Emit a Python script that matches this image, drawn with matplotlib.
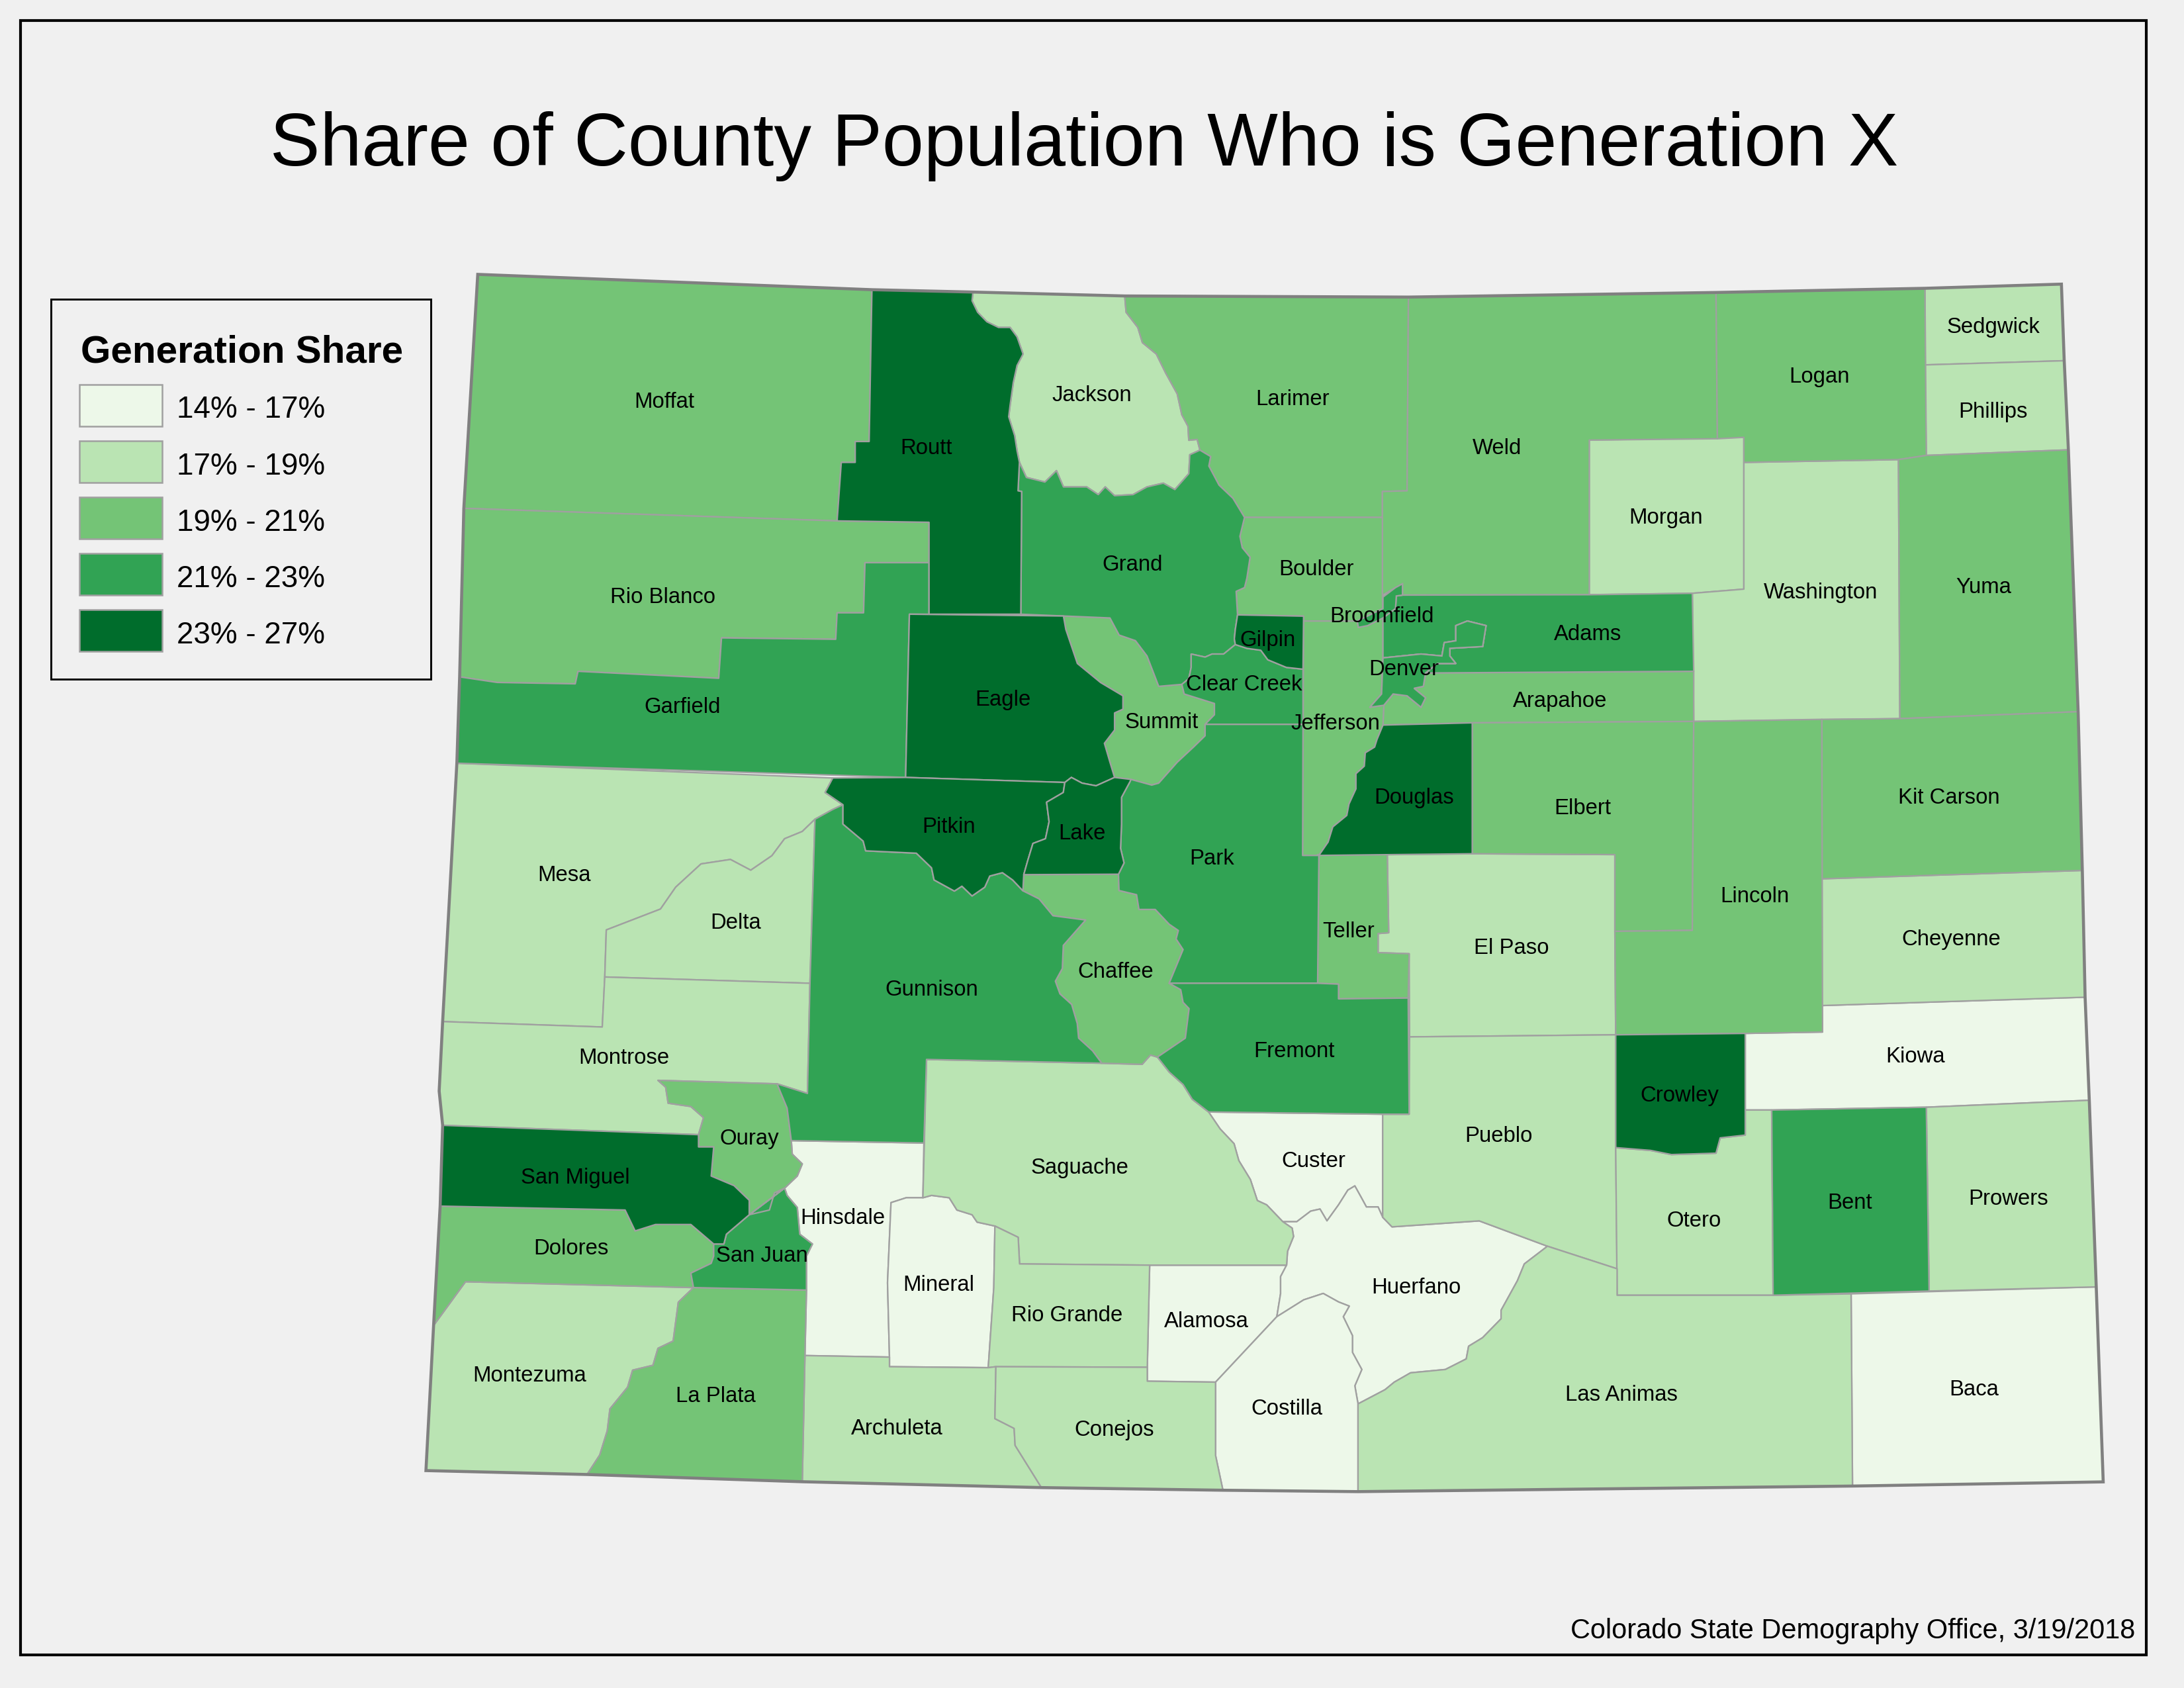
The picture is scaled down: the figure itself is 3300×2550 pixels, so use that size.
"""Share of county population who is Generation X, Colorado county choropleth."""

import matplotlib

matplotlib.use("Agg")
import matplotlib.pyplot as plt
from matplotlib.patches import Polygon, Rectangle

plt.rcParams["font.family"] = ["Liberation Sans", "DejaVu Sans"]

TITLE = "Share of County Population Who is Generation X"
CREDIT = "Colorado State Demography Office, 3/19/2018"
LEGEND_TITLE = "Generation Share"
CLASS_LABELS = ["14% - 17%", "17% - 19%", "19% - 21%", "21% - 23%", "23% - 27%"]
CLASS_COLORS = ["#EDF8E9", "#BAE4B3", "#74C476", "#31A354", "#006D2C"]

# Classes
CLASS_0 = ["Kiowa", "Custer", "Hinsdale", "Mineral", "Alamosa", "Huerfano", "Costilla", "Baca"]
CLASS_1 = ["Jackson", "Sedgwick", "Phillips", "Morgan", "Washington", "Mesa", "Delta", "Montrose",
           "Cheyenne", "El Paso", "Pueblo", "Saguache", "Otero", "Prowers", "Montezuma",
           "Rio Grande", "Archuleta", "Conejos", "Las Animas"]
CLASS_2 = ["Moffat", "Larimer", "Weld", "Logan", "Yuma", "Rio Blanco", "Boulder", "Arapahoe",
           "Summit", "Jefferson", "Elbert", "Kit Carson", "Lincoln", "Teller", "Chaffee",
           "Ouray", "Dolores", "La Plata"]
CLASS_3 = ["Grand", "Adams", "Clear Creek", "Garfield", "Park", "Gunnison", "Fremont", "Bent",
           "San Juan", "Denver", "Broomfield"]
CLASS_4 = ["Routt", "Gilpin", "Eagle", "Douglas", "Pitkin", "Lake", "Crowley", "San Miguel"]
CLASSES = [CLASS_0, CLASS_1, CLASS_2, CLASS_3, CLASS_4]

# Shared county borders, in map units
JACKSON_W = [(698.5, 209.7), (697.9, 216), (701.9, 224.2), (708.5, 231), (716.9, 235.1), (725.2, 235.1),
             (730.2, 241.9), (734.5, 254.2), (730.2, 262.4), (727.5, 274.6), (725.2, 291), (724.2, 299.2),
             (728.5, 312.8), (730.2, 323.7), (731.9, 331.9)]
JACKSON_S = [(731.9, 331.9), (736.9, 342.8), (750.2, 346.1), (758.5, 337.9), (763.5, 349.6), (780.2, 349.6),
             (788.5, 355.1), (793.5, 349.6), (800.2, 355.9), (813.5, 355.1), (823.5, 349.6), (835.2, 346.9),
             (843.5, 351.5), (853.5, 340.1), (854.2, 326.5), (861.5, 323.2)]
JACKSON_E = [(807.5, 212.5), (808.5, 224.2), (816.9, 235.1), (820.2, 246), (830.2, 254.2), (836.9, 267.8),
             (845.2, 282.8), (848.5, 297.8), (852.9, 306), (853.5, 316.1), (859.5, 315.5), (861.5, 323.2)]
GRAND_LARIMER = [(861.5, 323.2), (869.2, 327.8), (867.9, 334.6), (875.2, 348.3), (885.2, 357.8), (893.5, 371.5)]
GRAND_BOULDER = [(893.5, 371.5), (890.2, 385.1), (891.9, 393.3), (897.5, 400.1), (895.2, 415.1), (893.5, 421.9),
                 (887.5, 424.6), (888.5, 441.5)]
GILPIN_W = [(888.5, 441.5), (886.9, 451.9), (886.2, 458.7), (886.9, 462.8)]
GILPIN_S = [(886.9, 462.8), (895.2, 465.5), (905.2, 466.9), (910.2, 473.7), (923.5, 479.2), (935.5, 480.5)]
GRAND_CC = [(886.9, 462.8), (878.5, 469.6), (870.2, 469.6), (865.2, 471.8), (855.2, 469.6), (855.2, 479.2),
            (853.5, 487.3), (848.5, 491.4)]
SUMMIT_GRAND = [(763.5, 442.3), (796.9, 443.7), (803.5, 456), (815.2, 460), (823.5, 471), (831.9, 492.8),
                (848.5, 491.4)]
SUMMIT_CC = [(848.5, 491.4), (850.2, 498.3), (871.9, 505.1), (871.9, 513.2), (865.2, 520.1)]
SUMMIT_PARK = [(865.2, 520.1), (865.2, 528.3), (856.9, 536.4), (845.2, 547.3), (831.9, 562.3), (826.9, 563.7),
               (811.9, 559.6)]
SUMMIT_EAGLE = [(763.5, 442.3), (765.2, 451.9), (773.5, 476.4), (790.2, 490.1), (806.2, 499.6), (806.2, 509.2),
                (800.2, 511.9), (800.2, 524.2), (792.9, 533.7), (796.9, 547.3), (800.2, 558.2)]
EAGLE_LAKE = [(800.2, 558.2), (786.9, 564.2), (776.9, 562.3), (769.2, 558.2), (764.5, 561.8)]
LAKE_PITKIN = [(764.5, 561.8), (763.4, 569), (751.4, 576), (753.2, 590), (750.6, 602.2), (741.6, 605.6),
               (737.9, 617.8), (735, 628)]
LAKE_PARK = [(811.9, 559.6), (811.4, 561), (805.2, 572.5), (805.2, 591.7), (804.5, 609.1), (807, 619.6), (803, 627.7)]
PITKIN_MESA = [(597.9, 558.6), (592.4, 569), (605.2, 577.8)]
PITKIN_GUNNISON = [(605.2, 577.8), (605.2, 591.7), (619.7, 603.9), (621.5, 610.9), (657.9, 612.6), (668.8, 623.1),
                   (670.6, 631.8), (685.2, 639.8), (690.6, 636.3), (697.9, 643.3), (707, 637), (710.6, 629),
                   (719.7, 626.6), (727, 631.8), (734.4, 639.6)]
MESA_GUNNISON = [(605.2, 577.8), (597.9, 581.2), (585.1, 588.2)]
MESA_DELTA = [(585.1, 588.2), (576, 597), (563.3, 602.2), (554.2, 614.4), (539, 624.8), (524.4, 617.1),
              (503.3, 620.3), (485.1, 637), (474.2, 652.7), (435.3, 667.7), (434.2, 701.5)]
CHAFFEE_GUNNISON = [(734.4, 639.6), (746, 645.4), (756, 657.5), (779.4, 660.6), (763.4, 678.8), (762.7, 695.4),
                    (757.7, 704.5), (761, 713.6), (769.4, 721.2), (773.4, 734.8), (774.4, 745.4), (784.4, 754.5),
                    (791, 763.4)]
CHAFFEE_PARK = [(803, 627.7), (803.4, 639.4), (816, 642.4), (817.7, 653), (829.4, 653), (839.4, 663.6), (846, 668.1),
                (844.4, 674.2), (849.4, 681.8), (844.4, 693.9), (839.4, 706)]
CHAFFEE_FREMONT = [(839.4, 706), (847.7, 710.6), (849.4, 719.7), (853.7, 724.2), (851, 745.4), (831, 759)]
CHAFFEE_SAGUACHE = [(791, 763.4), (820, 764.2), (826, 757.5), (831, 759)]
SAGUACHE_FREMONT = [(831, 759), (839.4, 769.7), (849.4, 778.7), (856, 789.3), (867.7, 798.4)]
SAGUACHE_CUSTER = [(867.7, 798.4), (876, 810.6), (886, 821.2), (889.4, 833.3), (897.7, 846.9), (902.7, 862),
                   (909.4, 865.1), (921, 877.2)]
SAGUACHE_HUERFANO = [(921, 877.2), (927.7, 881.8), (928.7, 887.8), (924.4, 898.4), (923.7, 908.4)]
CUSTER_HUERFANO = [(921, 877.2), (931, 877.2), (941, 869.6), (947.7, 868.1), (952.7, 876.6), (961, 865.1),
                   (967.7, 854.5), (972.7, 851.5), (977.7, 860.5), (981, 866.6), (989.4, 866.6), (992.7, 874)]
ALAMOSA_HUERFANO = [(923.7, 908.4), (919.4, 916.6), (919.4, 928.8), (916.7, 945.4)]
COSTILLA_ALAMOSA = [(916.7, 945.4), (872.7, 992.4)]
COSTILLA_HUERFANO = [(916.7, 945.4), (936, 933.3), (950, 928.7), (961, 934.8), (968.7, 937.8), (964.4, 945.4),
                     (971, 959), (971, 971), (977.7, 983.3), (972.7, 995), (975, 1008)]
HUERFANO_ANIMAS = [(975, 1008), (994.4, 997.8), (1001, 992.4), (1012.7, 985.7), (1037.7, 983.3), (1052.7, 975.7),
                   (1054.4, 966.6), (1064.4, 960.5), (1077.7, 946.9), (1077.7, 940.8), (1089.4, 919.6),
                   (1094.4, 907.5), (1111, 894.8)]
PUEBLO_HUERFANO = [(992.7, 874), (999.4, 880.9), (1062, 876.6), (1111, 894.8)]
MINERAL_HINSDALE = [(639.7, 863.5), (650.6, 860), (662.6, 860)]
MINERAL_SAGUACHE = [(662.6, 860), (668.8, 858.3), (681.5, 860), (687, 868.8), (697.9, 872.2), (701.5, 877.5),
                    (714.3, 880.3)]
OURAY_HINSDALE = [(568.1, 819), (568.8, 828.7), (576, 835.7), (572.4, 844.4), (563.3, 853.1)]
SANJUAN_HINSDALE = [(563.3, 853.1), (565.1, 858.3), (572.4, 867), (574.2, 886.2), (583.3, 893.2), (579, 901.9),
                    (579, 926.3)]
OURAY_SANJUAN = [(563.3, 853.1), (556, 856.6), (552.4, 868.8), (537.9, 872.2)]
SANMIGUEL_OURAY = [(501.5, 814.7), (501.5, 823.5), (512.4, 823.5), (510.6, 844.4), (527, 851.3), (537.9, 861.8),
                   (537.9, 872.2)]
SANMIGUEL_SANJUAN = [(537.9, 872.2), (521.5, 886.2), (519.7, 893.2), (512.4, 893.2)]
SANMIGUEL_DOLORES = [(512.4, 893.2), (496, 879.2), (470.6, 879.2), (456, 883.8), (448.8, 868.8), (316, 866)]
DOLORES_SANJUAN = [(512.4, 893.2), (512.4, 901.9), (510.6, 907.1), (496, 914.1), (497.9, 924.5)]
MONTROSE_OURAY = [(557.9, 778.2), (472.4, 775.7), (477.9, 780.6), (479.7, 792.1), (496, 794.5), (505.1, 802.5),
                  (501.5, 814.7)]
OURAY_GUNNISON = [(557.9, 778.2), (565.1, 795.6), (568.1, 819)]
LAPLATA_MONTEZUMA = [(497.9, 924.5), (487, 935), (483.3, 962.9), (472.4, 968.1), (468.8, 980.3), (454.2, 983.8),
                     (450.6, 996), (437.9, 1011.6), (436, 1027.3), (430.6, 1044.7), (421.5, 1058.7)]
JEFFERSON_DOUGLAS = [(992.9, 520.6), (988.6, 531), (986.9, 536.4), (980.2, 540.5), (979.5, 550.1), (973.5, 555.5),
                     (973.5, 566.4), (968.5, 577.3), (966.9, 585.5), (956.9, 593.7), (953.5, 604.6), (946.9, 614.2)]
DENVER_N = [(992.9, 472.4), (1020.2, 469.6), (1035.2, 471), (1036.9, 461.4), (1045.2, 460.1), (1045.2, 449.2),
            (1053.5, 445.9), (1066.9, 449.2), (1064.5, 464.2), (1040.9, 465.5), (1040.9, 471), (1045.2, 476.4),
            (1031.9, 476.4), (1023.5, 483.2)]
DENVER_S = [(1023.5, 483.2), (1021.9, 492.8), (1015.2, 494.2), (1023.5, 501), (1020.2, 507.8), (1010.2, 499.6),
            (1000.2, 498.3), (993.5, 506.4)]
DENVER_W = [(993.5, 506.4), (983.5, 507.8), (991.9, 498.3), (992.9, 472.4)]
BROOMFIELD = [(1006.9, 419.2), (1006.9, 427.3), (1002.5, 427.9), (1001.9, 436.9), (992.9, 443.7), (981.9, 449.2),
              (975.2, 450.5), (974.5, 445.9), (992.9, 436.9), (992.9, 428.7), (1001.9, 421.9)]
STATE_OUTLINE = [(343, 197), (626, 208), (698.5, 209.7), (807.5, 212.5), (1011.2, 213.3), (1232, 210), (1382, 207),
                 (1480, 204), (1482, 259), (1485, 323), (1492, 511), (1495, 625), (1497, 716), (1500, 790),
                 (1505, 924), (1510, 1064), (1330, 1067), (975, 1071), (878, 1070), (747.7, 1068.1), (576, 1063.9),
                 (421.5, 1058.7), (305.8, 1055.9), (311.3, 951.7), (316, 866), (317.8, 808), (315.3, 783.4),
                 (317.8, 733.5), (328, 548), (330, 486), (333, 365)]


def rev(chain):
    return chain[::-1]


COUNTY_SHAPES = {
    "Moffat": [(343, 197), (626, 208), (624, 317), (614, 317), (614, 332), (604, 332), (601, 374), (333, 365)],
    "Routt": [(626, 208)] + JACKSON_W + [(730.9, 352.4), (733.5, 352.9), (732.9, 441), (667, 441), (667, 375),
                                         (601, 374), (604, 332), (614, 332), (614, 317), (624, 317)],
    "Jackson": JACKSON_W[:1] + JACKSON_E + rev(JACKSON_S) + rev(JACKSON_W),
    "Larimer": [(807.5, 212.5), (1011.2, 213.3), (1010.2, 352.4), (992.5, 352.9), (992.5, 371.5)]
    + rev(GRAND_LARIMER) + rev(JACKSON_E),
    "Weld": [(1011.2, 213.3), (1232, 210), (1233, 315), (1141, 316), (1141, 427), (1002.5, 427.3), (1001.9, 421.9),
             (992.5, 427.3), (992.5, 352.9), (1010.2, 352.4)],
    "Logan": [(1232, 210), (1382, 207), (1383, 327), (1363, 330), (1252, 332), (1252, 314), (1233, 315)],
    "Sedgwick": [(1382, 207), (1480, 204), (1482, 259), (1382, 262)],
    "Phillips": [(1382, 262), (1482, 259), (1485, 323), (1383, 327)],
    "Morgan": [(1141, 316), (1252, 314), (1252, 423), (1215, 426), (1141, 427)],
    "Yuma": [(1363, 330), (1383, 327), (1485, 323), (1492, 511), (1364, 516)],
    "Washington": [(1252, 332), (1363, 330), (1364, 516), (1216, 518), (1215, 426), (1252, 423)],
    "Rio Blanco": [(333, 365), (601, 374), (667, 375), (667, 404), (621, 404), (620, 440), (601, 440), (600, 459),
                   (518, 458), (516, 487), (415, 482), (413, 491), (357, 490), (330, 486)],
    "Garfield": [(330, 486), (357, 490), (413, 491), (415, 482), (516, 487), (518, 458), (600, 459), (601, 440),
                 (620, 440), (621, 404), (667, 404), (667, 441), (652.9, 441), (650.2, 558.2), (328, 548)],
    "Grand": JACKSON_S + GRAND_LARIMER + GRAND_BOULDER + GILPIN_W + GRAND_CC + rev(SUMMIT_GRAND)
    + [(732.9, 441), (733.5, 352.9), (730.9, 352.4)],
    "Boulder": [(893.5, 371.5), (992.5, 371.5), (992.5, 427.3), (992.9, 443.7), (975.2, 445.9), (935.9, 445.9),
                (935.9, 442.4), (888.5, 441.5)] + rev(GRAND_BOULDER),
    "Gilpin": [(888.5, 441.5), (935.9, 442.4)] + rev(GILPIN_S) + rev(GILPIN_W),
    "Clear Creek": GILPIN_S + [(935.5, 520.1)] + rev(SUMMIT_CC) + rev(GRAND_CC),
    "Eagle": [(652.9, 441)] + SUMMIT_EAGLE + EAGLE_LAKE + [(650.2, 558.2)],
    "Summit": SUMMIT_GRAND + SUMMIT_CC + SUMMIT_PARK + [(800.2, 558.2)] + rev(SUMMIT_EAGLE),
    "Jefferson": [(935.9, 445.9), (975.2, 445.9), (992.9, 443.7)] + rev(DENVER_W) + [(992.9, 520.6)]
    + JEFFERSON_DOUGLAS + [(935.2, 614.2)],
    "Adams": [(992.9, 428), (1002.5, 427.3), (1141, 427), (1215, 426), (1216, 482)] + rev(DENVER_N),
    "Arapahoe": [(1023.5, 483.2), (1216, 482), (1216, 518), (1057, 519), (992.9, 520.6)] + rev(DENVER_S),
    "Douglas": JEFFERSON_DOUGLAS + [(1057, 613), (1057, 519)],
    "Elbert": [(1057, 519), (1216, 518), (1215, 668), (1159.4, 668.7), (1159.4, 613.6), (1057, 613)],
    "Lincoln": [(1216, 518), (1308, 516.5), (1308.5, 741), (1253, 742), (1160, 743), (1159.4, 668.7), (1215, 668)],
    "Kit Carson": [(1308, 516.5), (1364, 516), (1492, 511), (1495, 625), (1308, 631)],
    "Cheyenne": [(1308, 631), (1495, 625), (1497, 716), (1308, 722)],
    "Kiowa": [(1308, 722), (1497, 716), (1500, 790), (1383, 795), (1272, 797), (1253, 797), (1253, 742), (1308.5, 741)],
    "Crowley": [(1160, 743), (1253, 742), (1253, 815), (1235, 817), (1232, 828), (1200, 829), (1185, 826), (1160, 824)],
    "Otero": [(1160, 824), (1185, 826), (1200, 829), (1232, 828), (1235, 817), (1253, 815), (1253, 797), (1272, 797),
              (1273, 930), (1161, 930)],
    "Bent": [(1272, 797), (1383, 795), (1385, 927), (1273, 930)],
    "Prowers": [(1383, 795), (1500, 790), (1505, 924), (1385, 927)],
    "Baca": [(1329, 929), (1505, 924), (1510, 1064), (1330, 1067)],
    "Las Animas": [(1111, 894.8), (1161, 911), (1161, 930), (1273, 930), (1329, 929), (1330, 1067), (975, 1071)]
    + HUERFANO_ANIMAS,
    "Pueblo": [(1012, 744.5), (1160, 743), (1160, 824), (1161, 911)] + rev(PUEBLO_HUERFANO) + [(992.7, 800), (1011.7, 800)],
    "Fremont": [(839.4, 706), (946, 706), (961, 706.6), (961, 717.2), (1011, 716.6), (1011.7, 800), (992.7, 800)]
    + rev(SAGUACHE_FREMONT) + rev(CHAFFEE_FREMONT),
    "Teller": [(946, 613.6), (996, 613.6), (997, 669.7), (989.4, 670.3), (989.4, 684), (1011.7, 684.8), (1011, 716.6),
               (961, 717.2), (961, 706.6), (946, 706)],
    "El Paso": [(996, 613.6), (1057, 613), (1159.4, 613.6), (1159.4, 668.7), (1160, 743), (1012, 744.5), (1011.7, 684.8),
                (989.4, 684), (989.4, 670.3), (997, 669.7)],
    "Park": [(935.5, 520.1), (935.2, 614.2), (946.9, 614.2), (946, 706)] + rev(CHAFFEE_PARK) + rev(LAKE_PARK)
    + rev(SUMMIT_PARK),
    "Lake": EAGLE_LAKE + LAKE_PITKIN + rev(CHAFFEE_PARK[:1]) + rev(LAKE_PARK) + [(800.2, 558.2)],
    "Pitkin": [(597.9, 558.6), (650.2, 558.2), (764.5, 561.8)] + LAKE_PITKIN[1:] + [(734.4, 639.6)]
    + rev(PITKIN_GUNNISON) + rev(PITKIN_MESA),
    "Chaffee": [(735, 628), (803, 627.7)] + CHAFFEE_PARK + CHAFFEE_FREMONT + rev(CHAFFEE_SAGUACHE)
    + rev(CHAFFEE_GUNNISON),
    "Gunnison": PITKIN_GUNNISON + CHAFFEE_GUNNISON + [(665.2, 760.7), (663.3, 820.7)] + rev(OURAY_GUNNISON)
    + [(579.7, 785.1), (581.5, 706), (585.1, 588.2)] + rev(MESA_GUNNISON),
    "Mesa": [(328, 548), (597.9, 558.6)] + PITKIN_MESA[1:] + MESA_GUNNISON[1:] + MESA_DELTA[1:]
    + [(432.4, 737.4), (317.8, 733.5)],
    "Delta": MESA_DELTA + [(581.5, 706)],
    "Montrose": [(434.2, 701.5), (581.5, 706), (579.7, 785.1)] + MONTROSE_OURAY
    + [(317.8, 808), (315.3, 783.4), (317.8, 733.5), (432.4, 737.4)],
    "Ouray": rev(MONTROSE_OURAY) + OURAY_GUNNISON + OURAY_HINSDALE + OURAY_SANJUAN + rev(SANMIGUEL_OURAY),
    "San Miguel": [(317.8, 808)] + SANMIGUEL_OURAY + SANMIGUEL_SANJUAN + SANMIGUEL_DOLORES,
    "Dolores": [(316, 866)] + rev(SANMIGUEL_DOLORES) + DOLORES_SANJUAN + [(334.2, 920.3), (311.3, 951.7)],
    "San Juan": rev(OURAY_SANJUAN) + SANMIGUEL_SANJUAN + DOLORES_SANJUAN + rev(SANJUAN_HINSDALE),
    "Montezuma": [(334.2, 920.3)] + LAPLATA_MONTEZUMA + [(305.8, 1055.9), (311.3, 951.7)],
    "La Plata": LAPLATA_MONTEZUMA + [(576, 1063.9), (577.9, 973.3), (579, 926.3)],
    "Hinsdale": [(568.1, 819), (663.3, 820.7), (662.6, 860)] + rev(MINERAL_HINSDALE)
    + [(637.2, 921), (638.6, 974.4), (577.9, 973.3)] + rev(SANJUAN_HINSDALE) + rev(OURAY_HINSDALE),
    "Mineral": MINERAL_HINSDALE + MINERAL_SAGUACHE + [(713.5, 924.5), (709.5, 982), (638.6, 981.3), (638.6, 974.4),
                                                      (637.2, 921)],
    "Saguache": [(665.2, 760.7), (791, 763.4)] + CHAFFEE_SAGUACHE + SAGUACHE_FREMONT + SAGUACHE_CUSTER
    + SAGUACHE_HUERFANO + [(825.4, 908.4), (732, 907.5), (731, 888.4)] + rev(MINERAL_SAGUACHE),
    "Rio Grande": [(714.3, 880.3), (731, 888.4), (732, 907.5), (825.4, 908.4), (823.7, 981.7), (715, 981.3),
                   (709.5, 982), (713.5, 924.5)],
    "Alamosa": [(825.4, 908.4)] + ALAMOSA_HUERFANO + COSTILLA_ALAMOSA + [(823.7, 991.7), (823.7, 981.7)],
    "Custer": [(867.7, 798.4), (992.7, 800)] + rev(CUSTER_HUERFANO) + rev(SAGUACHE_CUSTER),
    "Huerfano": rev(SAGUACHE_HUERFANO) + CUSTER_HUERFANO + PUEBLO_HUERFANO + rev(HUERFANO_ANIMAS)
    + rev(COSTILLA_HUERFANO) + rev(ALAMOSA_HUERFANO),
    "Costilla": rev(COSTILLA_ALAMOSA) + COSTILLA_HUERFANO + [(975, 1071), (878, 1070), (872.7, 1045)],
    "Archuleta": [(577.9, 973.3), (638.6, 974.4), (638.6, 981.3), (709.5, 982), (715, 981.3), (714.3, 1018.6),
                  (728.1, 1025.6), (728.8, 1037.8), (747.7, 1068.1), (576, 1063.9)],
    "Conejos": [(715, 981.3), (823.7, 981.7), (823.7, 991.7), (872.7, 992.4), (872.7, 1045), (878, 1070),
                (747.7, 1068.1), (728.8, 1037.8), (728.1, 1025.6), (714.3, 1018.6)],
    "Denver": DENVER_N + DENVER_S + DENVER_W,
    "Broomfield": BROOMFIELD,
}

COUNTY_LABELS = {
    "Moffat": (477, 287), "Routt": (665, 320), "Jackson": (784, 282), "Larimer": (928, 285), "Weld": (1075, 320),
    "Logan": (1306, 269), "Sedgwick": (1431, 233), "Phillips": (1431, 294), "Morgan": (1196, 370),
    "Yuma": (1424, 420), "Washington": (1307, 424), "Rio Blanco": (476, 427), "Grand": (813, 404),
    "Boulder": (945, 407), "Broomfield": (992, 441), "Adams": (1140, 454), "Gilpin": (910, 458),
    "Clear Creek": (893, 490), "Denver": (1008, 479), "Arapahoe": (1120, 502), "Garfield": (490, 506),
    "Eagle": (720, 501), "Summit": (834, 517), "Jefferson": (959, 518), "Douglas": (1015, 571), "Elbert": (1136, 579),
    "Kit Carson": (1399, 571), "Pitkin": (681, 592), "Lake": (777, 597), "Park": (870, 615), "Lincoln": (1260, 642),
    "Mesa": (405, 627), "Delta": (528, 661), "Teller": (968, 667), "Cheyenne": (1401, 673), "El Paso": (1085, 679),
    "Chaffee": (801, 696), "Gunnison": (669, 709), "Fremont": (929, 753), "Montrose": (448, 758), "Kiowa": (1375, 757),
    "Crowley": (1206, 785), "Pueblo": (1076, 814), "Ouray": (538, 816), "Custer": (943, 832), "Saguache": (775, 837),
    "San Miguel": (413, 844), "Bent": (1328, 862), "Prowers": (1442, 859), "Hinsdale": (605, 873), "Otero": (1216, 875),
    "Dolores": (410, 895), "San Juan": (547, 900), "Mineral": (674, 921), "Huerfano": (1017, 923),
    "Rio Grande": (766, 943), "Alamosa": (866, 947), "Montezuma": (380, 986), "La Plata": (514, 1001),
    "Baca": (1417, 996), "Las Animas": (1164, 1000), "Costilla": (924, 1010), "Archuleta": (644, 1024),
    "Conejos": (800, 1025),
}

BG = "#F0F0F0"
EDGE = "#A0A0A0"

fig = plt.figure(figsize=(11, 8.5), dpi=300, facecolor=BG)
ax = fig.add_axes([0, 0, 1, 1])
ax.set_xlim(0, 1568)
ax.set_ylim(1212, 0)
ax.axis("off")

# Outer frame
ax.add_patch(Rectangle((14.5, 14.5), 1526.5, 1173.5, fill=False, edgecolor="black", linewidth=1.0))

ax.text(778.5, 105, TITLE, fontsize=27.15, ha="center", va="center")
ax.text(1533, 1171, CREDIT, fontsize=9.97, ha="right", va="center")

# Draw the counties, Denver and Broomfield are last in their class because they sit on the others
for colour, names in zip(CLASS_COLORS, CLASSES):
    for name in names:
        ax.add_patch(Polygon(COUNTY_SHAPES[name], closed=True, facecolor=colour, edgecolor=EDGE,
                             linewidth=0.55, joinstyle="round"))
ax.add_patch(Polygon(COUNTY_SHAPES["Denver"], closed=True, facecolor=CLASS_COLORS[3], edgecolor=EDGE, linewidth=0.55))
ax.add_patch(Polygon(COUNTY_SHAPES["Broomfield"], closed=True, facecolor=CLASS_COLORS[3], edgecolor=EDGE, linewidth=0.55))

# State outline
ax.add_patch(Polygon(STATE_OUTLINE, closed=True, fill=False, edgecolor="#808080", linewidth=1.1))

for name, (lx, ly) in COUNTY_LABELS.items():
    ax.text(lx, ly + 1.8, name, fontsize=7.9, ha="center", va="center", color="black")

# Legend
ax.add_patch(Rectangle((36.7, 214.6), 272.4, 272.9, fill=False, edgecolor="black", linewidth=0.7))
ax.text(58, 253, LEGEND_TITLE, fontsize=14, fontweight="bold", ha="left", va="center")
swatch_top = [276, 316.7, 357, 397.5, 437.9]
for top, colour, label in zip(swatch_top, CLASS_COLORS, CLASS_LABELS):
    ax.add_patch(Rectangle((56.8, top), 59.7, 30, facecolor=colour, edgecolor=EDGE, linewidth=0.6))
    ax.text(127, top + 18.3, label, fontsize=11, ha="left", va="center")

fig.savefig("out.png", dpi=300, facecolor=BG)
